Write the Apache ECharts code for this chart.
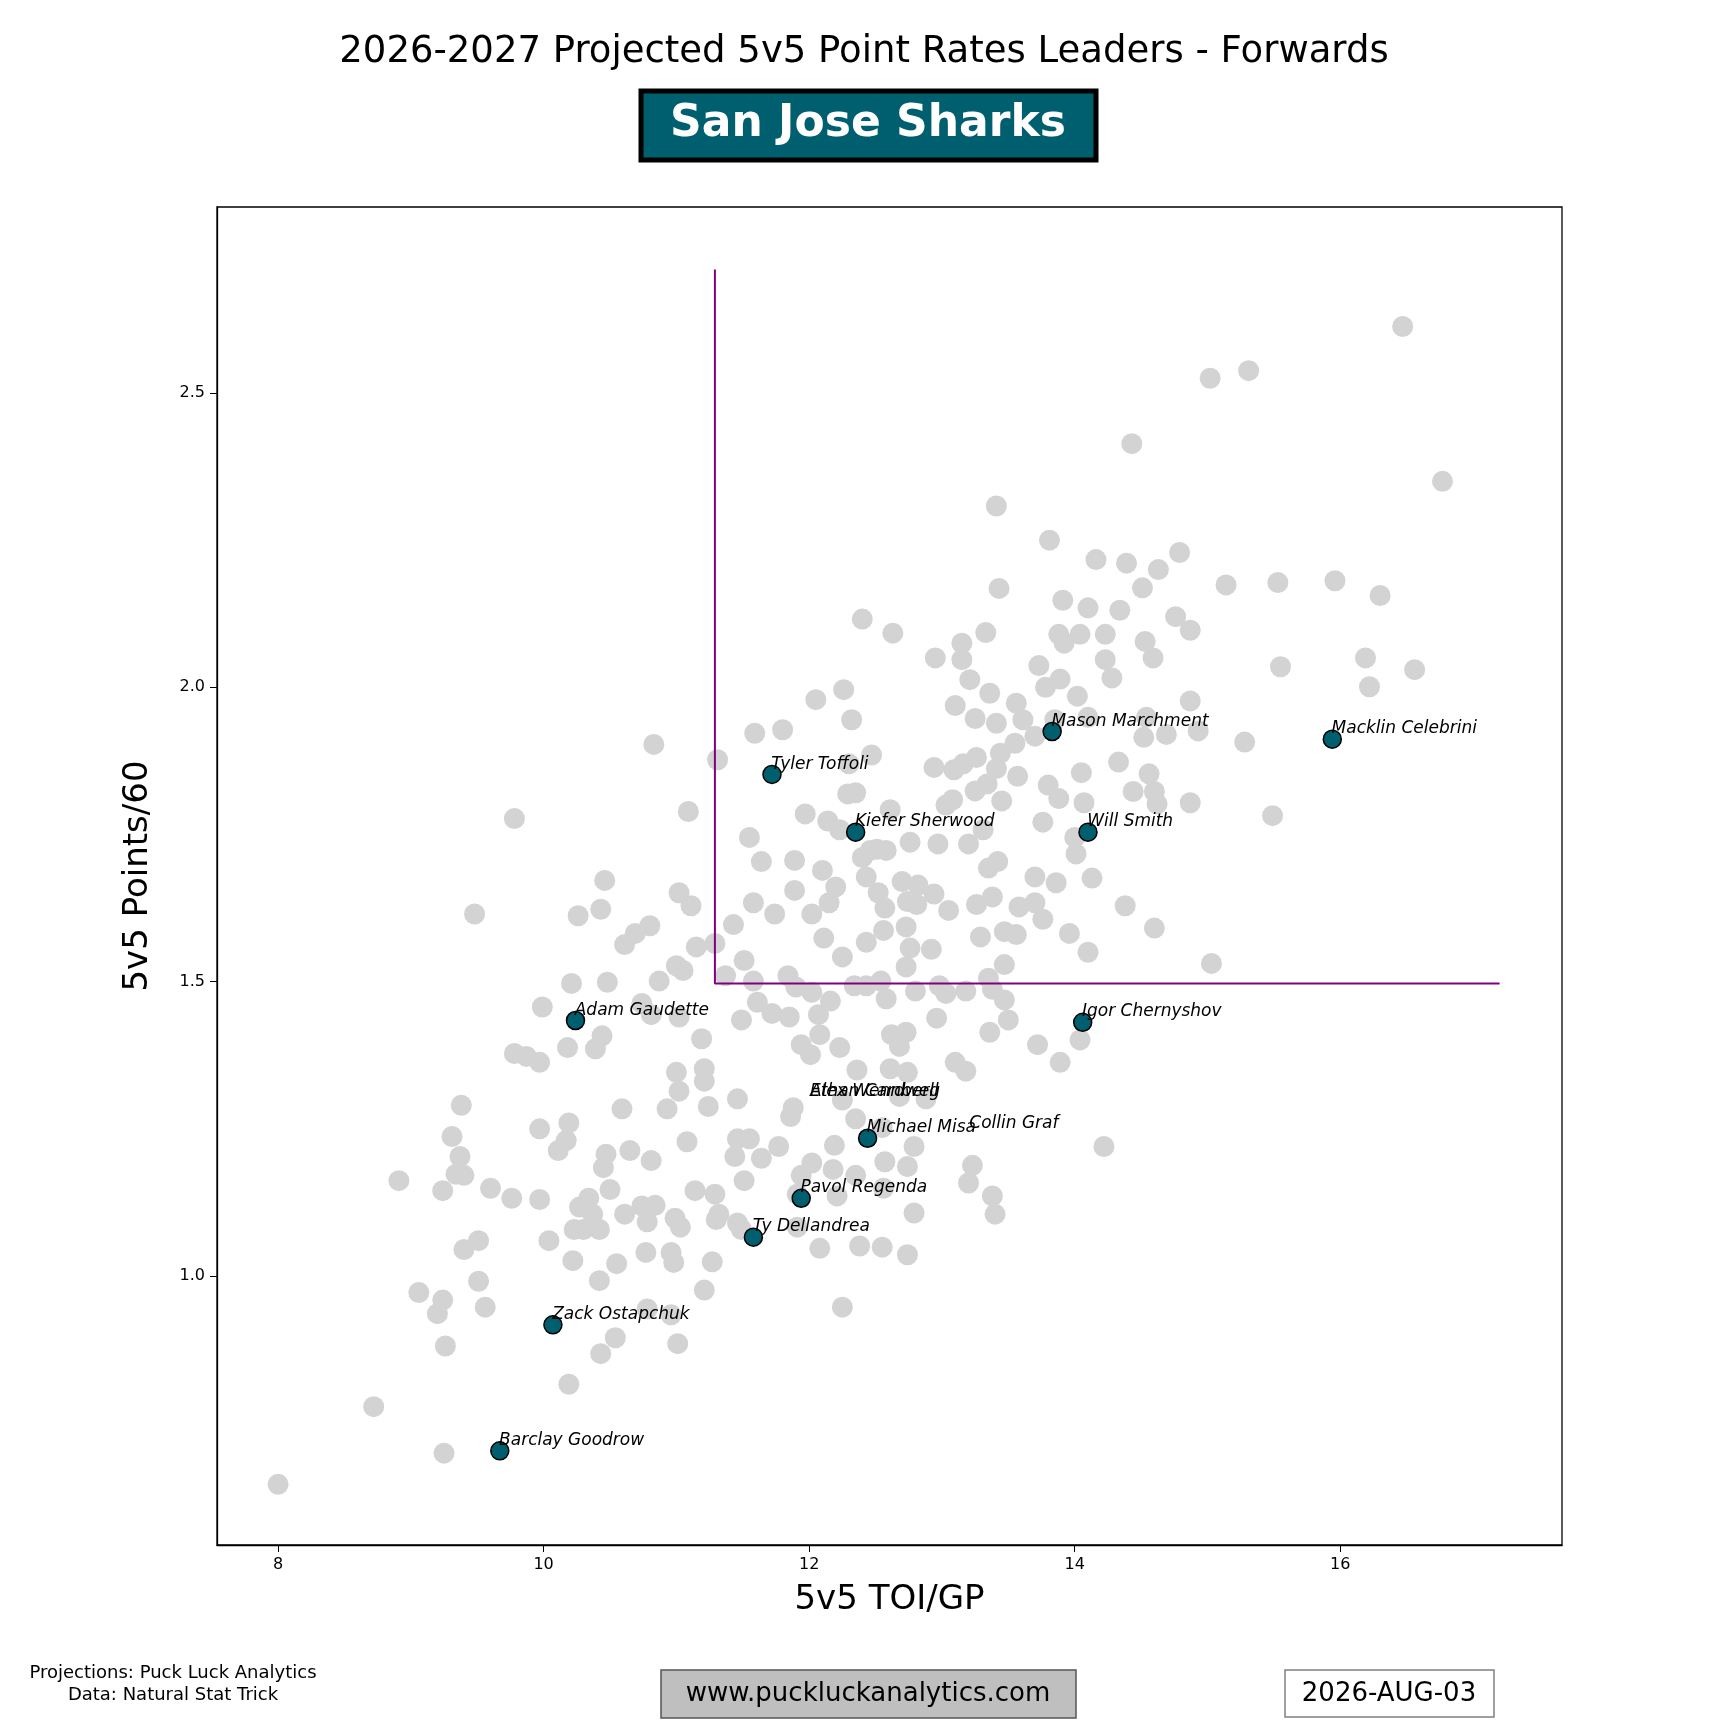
<!DOCTYPE html>
<html><head><meta charset="utf-8">
<script src="https://cdn.jsdelivr.net/npm/echarts@6/dist/echarts.min.js"></script>
<style>html,body{margin:0;padding:0;background:#fff}#main{width:1728px;height:1728px}</style>
</head><body><div id="main"></div>
<script>
// league forwards (gray background dots): [toi, pts60]
var leaguePts = [
 [16.47,2.613],[15.31,2.538],[15.02,2.525],[14.43,2.414],[16.77,2.350],[13.41,2.308],[13.81,2.250],[14.79,2.229],
 [14.16,2.217],[14.39,2.211],[14.63,2.200],[15.96,2.181],[15.53,2.178],[15.14,2.174],[14.51,2.169],[13.43,2.168],
 [16.30,2.156],[13.91,2.148],[14.10,2.135],[14.34,2.131],[14.76,2.120],[12.40,2.116],[14.87,2.097],[13.33,2.093],
 [12.63,2.092],[13.88,2.090],[14.23,2.090],[14.04,2.090],[14.53,2.078],[13.15,2.075],[13.92,2.075],[16.19,2.050],
 [16.56,2.030],[15.55,2.035],[14.59,2.050],[14.23,2.047],[13.15,2.047],[12.95,2.050],[13.73,2.037],[14.28,2.016],
 [13.21,2.013],[13.89,2.014],[13.78,2.000],[12.26,1.996],[13.36,1.990],[16.22,2.001],[12.05,1.979],[14.02,1.985],
 [13.56,1.973],[13.10,1.969],[14.87,1.977],[12.32,1.945],[14.54,1.949],[13.85,1.945],[13.25,1.947],[13.61,1.945],
 [14.10,1.949],[13.41,1.939],[11.59,1.922],[11.80,1.928],[14.69,1.920],[14.52,1.915],[14.93,1.926],[15.28,1.907],
 [10.83,1.903],[13.55,1.905],[13.70,1.917],[14.33,1.873],[11.31,1.877],[13.44,1.888],[13.26,1.881],[13.16,1.870],
 [12.47,1.885],[12.30,1.870],[13.57,1.849],[14.05,1.855],[14.56,1.853],[13.41,1.862],[13.34,1.836],[12.94,1.864],
 [13.09,1.860],[13.25,1.824],[13.80,1.834],[14.44,1.823],[14.60,1.823],[12.29,1.819],[12.35,1.821],[13.88,1.811],
 [14.07,1.804],[14.87,1.804],[14.62,1.802],[13.03,1.800],[13.45,1.807],[13.08,1.809],[12.61,1.792],[11.97,1.785],
 [11.09,1.789],[9.78,1.777],[15.49,1.782],[13.76,1.771],[12.14,1.773],[12.23,1.758],[11.55,1.745],[13.31,1.758],
 [14.00,1.745],[12.76,1.737],[12.97,1.734],[13.20,1.734],[12.51,1.725],[12.46,1.723],[12.58,1.723],[14.01,1.717],
 [11.64,1.704],[11.89,1.706],[12.40,1.711],[13.42,1.704],[13.35,1.693],[12.10,1.689],[13.70,1.678],[14.13,1.676],
 [10.46,1.672],[12.70,1.670],[12.82,1.664],[12.43,1.678],[13.86,1.668],[12.20,1.661],[11.02,1.651],[11.89,1.655],
 [12.52,1.651],[13.38,1.644],[12.94,1.649],[12.74,1.636],[12.15,1.634],[11.58,1.634],[13.70,1.634],[11.11,1.629],
 [13.26,1.631],[14.38,1.629],[12.81,1.631],[10.43,1.623],[12.57,1.625],[9.48,1.615],[10.26,1.612],[12.02,1.615],
 [11.74,1.615],[13.05,1.621],[13.58,1.627],[13.76,1.606],[11.43,1.597],[10.80,1.595],[12.73,1.593],[14.60,1.591],
 [12.56,1.587],[13.96,1.582],[13.47,1.585],[13.56,1.580],[10.69,1.582],[12.11,1.574],[13.29,1.576],[11.29,1.565],
 [10.61,1.563],[12.43,1.567],[12.76,1.557],[12.92,1.555],[14.10,1.550],[11.15,1.559],[12.25,1.542],[11.51,1.536],
 [13.47,1.529],[15.03,1.531],[12.73,1.525],[11.00,1.527],[11.05,1.519],[11.37,1.510],[11.84,1.510],[13.35,1.506],
 [10.87,1.501],[10.48,1.499],[10.21,1.497],[11.58,1.501],[12.54,1.501],[12.43,1.493],[11.90,1.491],[12.34,1.493],
 [12.98,1.493],[12.02,1.482],[12.80,1.484],[13.18,1.484],[13.38,1.487],[13.47,1.469],[10.74,1.463],[9.99,1.457],
 [11.61,1.465],[12.16,1.467],[13.03,1.480],[12.58,1.471],[11.02,1.440],[11.49,1.435],[11.72,1.446],[11.85,1.440],
 [12.07,1.444],[12.96,1.438],[13.50,1.435],[10.81,1.444],[10.44,1.408],[11.19,1.403],[13.36,1.414],[12.08,1.410],
 [14.04,1.401],[13.72,1.393],[10.39,1.386],[10.18,1.388],[11.94,1.393],[12.23,1.388],[12.62,1.410],[12.73,1.414],
 [12.68,1.390],[9.78,1.378],[9.87,1.373],[9.97,1.363],[13.89,1.363],[12.01,1.376],[13.10,1.363],[11.00,1.346],
 [11.21,1.352],[13.18,1.348],[12.36,1.350],[12.61,1.352],[12.74,1.346],[11.21,1.331],[11.02,1.314],[11.46,1.301],
 [12.88,1.301],[12.68,1.305],[12.25,1.299],[9.38,1.290],[11.24,1.288],[11.88,1.286],[10.59,1.284],[10.93,1.284],
 [11.86,1.271],[12.35,1.267],[10.19,1.260],[9.97,1.250],[12.55,1.252],[9.31,1.237],[11.46,1.233],[10.17,1.230],
 [11.08,1.228],[14.22,1.220],[12.79,1.220],[12.19,1.222],[11.77,1.220],[11.55,1.233],[10.11,1.213],[9.37,1.203],
 [10.65,1.213],[10.47,1.207],[11.44,1.203],[11.64,1.200],[12.02,1.192],[13.23,1.188],[12.57,1.194],[12.74,1.186],
 [10.81,1.196],[10.45,1.184],[12.18,1.181],[9.34,1.173],[9.40,1.171],[12.35,1.171],[8.91,1.162],[9.60,1.149],
 [9.24,1.145],[11.94,1.171],[11.51,1.162],[13.20,1.158],[10.50,1.147],[11.14,1.145],[11.29,1.139],[12.21,1.136],
 [12.56,1.149],[9.76,1.132],[9.97,1.130],[10.34,1.132],[13.38,1.136],[11.91,1.139],[10.74,1.119],[10.84,1.120],
 [10.27,1.117],[10.37,1.105],[10.61,1.105],[13.40,1.105],[12.79,1.107],[11.32,1.105],[10.78,1.092],[10.99,1.098],
 [11.46,1.090],[11.03,1.083],[11.30,1.096],[10.42,1.079],[10.23,1.079],[10.30,1.079],[11.49,1.079],[11.91,1.083],
 [9.51,1.060],[10.04,1.060],[9.40,1.045],[12.08,1.047],[12.55,1.049],[12.38,1.051],[10.77,1.040],[10.96,1.040],
 [12.74,1.036],[11.27,1.024],[10.22,1.026],[10.98,1.023],[10.55,1.021],[9.51,0.991],[10.42,0.992],[9.06,0.972],
 [11.21,0.976],[9.24,0.959],[9.56,0.947],[9.20,0.936],[12.25,0.947],[10.78,0.944],[10.96,0.934],[10.54,0.895],
 [11.01,0.885],[9.26,0.881],[10.43,0.868],[10.19,0.816],[8.72,0.778],[9.25,0.699],[8.00,0.646]
];

// team forwards
var teamNames = ['Macklin Celebrini','Mason Marchment','Tyler Toffoli','Kiefer Sherwood','Will Smith','Adam Gaudette',
 'Igor Chernyshov','Ty Dellandrea','Michael Misa','Pavol Regenda','Zack Ostapchuk','Barclay Goodrow'];
var teamToi = [15.94,13.83,11.72,12.35,14.10,10.24,14.06,11.58,12.44,11.94,10.07,9.67];
var teamPts = [1.912,1.925,1.852,1.754,1.754,1.434,1.431,1.066,1.234,1.132,0.917,0.703];

// players with a label but no visible marker
var hiddenNames = ['Alex Wennberg','Ethan Cardwell','Collin Graf'];
var hiddenToi = [12.01,12.01,13.21];
var hiddenPts = [1.31,1.31,1.255];

var xTicks = [8,10,12,14,16];
var yTicks = [1.0,1.5,2.0,2.5];
var refLine = [[11.29,2.71],[11.29,1.497],[17.2,1.497]];

var chart = echarts.init(document.getElementById('main'));
var font = 'DejaVu Sans';
chart.setOption({
  animation:false,
  textStyle:{fontFamily:font},
  grid:{left:217,top:207,width:1345,height:1338},
  xAxis:{type:'value',min:7.54,max:17.67,name:'5v5 TOI/GP',nameLocation:'middle',nameGap:38,
    nameTextStyle:{fontSize:34,color:'#000',fontFamily:font},
    splitLine:{show:false},
    axisLine:{onZero:false,lineStyle:{color:'#000',width:1.3}},
    axisTick:{show:true,length:7,customValues:xTicks,lineStyle:{color:'#000'}},
    axisLabel:{customValues:xTicks,fontSize:16,color:'#000',margin:12}},
  yAxis:{type:'value',min:0.543,max:2.816,name:'5v5 Points/60',nameLocation:'middle',nameGap:62,
    nameTextStyle:{fontSize:34,color:'#000',fontFamily:font},
    splitLine:{show:false},
    axisLine:{onZero:false,lineStyle:{color:'#000',width:1.3}},
    axisTick:{show:true,length:7,customValues:yTicks,lineStyle:{color:'#000'}},
    axisLabel:{customValues:yTicks,fontSize:16,color:'#000',margin:12,formatter:function(v){return v.toFixed(1);}}},
  graphic:[
    {type:'rect',shape:{x:217,y:207,width:1345,height:1338},style:{fill:'none',stroke:'#000',lineWidth:1.3},z:-1},
    {type:'text',x:864,y:52,style:{text:'2026-2027 Projected 5v5 Point Rates Leaders - Forwards',font:'37px DejaVu Sans',fill:'#000',textAlign:'center',textVerticalAlign:'middle'}},
    {type:'rect',shape:{x:641,y:91,width:455,height:69},style:{fill:'#005f6e',stroke:'#000',lineWidth:5}},
    {type:'text',x:868,y:125,style:{text:'San Jose Sharks',font:'bold 44px DejaVu Sans',fill:'#fff',textAlign:'center',textVerticalAlign:'middle'}},
    {type:'text',x:173,y:1673,style:{text:'Projections: Puck Luck Analytics',font:'18px DejaVu Sans',fill:'#000',textAlign:'center',textVerticalAlign:'middle'}},
    {type:'text',x:173,y:1695,style:{text:'Data: Natural Stat Trick',font:'18px DejaVu Sans',fill:'#000',textAlign:'center',textVerticalAlign:'middle'}},
    {type:'rect',shape:{x:661,y:1670,width:415,height:48},style:{fill:'#bfbfbf',stroke:'#555',lineWidth:1.5}},
    {type:'text',x:868,y:1694,style:{text:'www.puckluckanalytics.com',font:'26px DejaVu Sans',fill:'#000',textAlign:'center',textVerticalAlign:'middle'}},
    {type:'rect',shape:{x:1285,y:1670,width:209,height:47},style:{fill:'#fff',stroke:'#808080',lineWidth:1.5}},
    {type:'text',x:1389,y:1694,style:{text:'2026-AUG-03',font:'26px DejaVu Sans',fill:'#000',textAlign:'center',textVerticalAlign:'middle'}}
  ],
  series:[
    {type:'scatter',data:leaguePts,symbolSize:21,itemStyle:{color:'#d3d3d3',opacity:1},z:2},
    {type:'line',data:refLine,symbol:'none',lineStyle:{color:'#800080',width:2},z:3},
    {type:'scatter',data:teamToi.map(function(x,i){return {value:[x,teamPts[i]],name:teamNames[i]};}),
      symbolSize:18,itemStyle:{color:'#005f6e',borderColor:'#000',borderWidth:1.5,opacity:1},z:4,
      label:{show:true,position:[9,-9],formatter:'{b}',fontStyle:'italic',fontSize:17,color:'#000',fontFamily:font}},
    {type:'scatter',data:hiddenToi.map(function(x,i){return {value:[x,hiddenPts[i]],name:hiddenNames[i]};}),
      symbolSize:1,itemStyle:{color:'rgba(0,0,0,0)',opacity:1},z:4,
      label:{show:true,position:[0,-10],formatter:'{b}',fontStyle:'italic',fontSize:17,color:'#000',fontFamily:font}}
  ]
});
</script></body></html>
